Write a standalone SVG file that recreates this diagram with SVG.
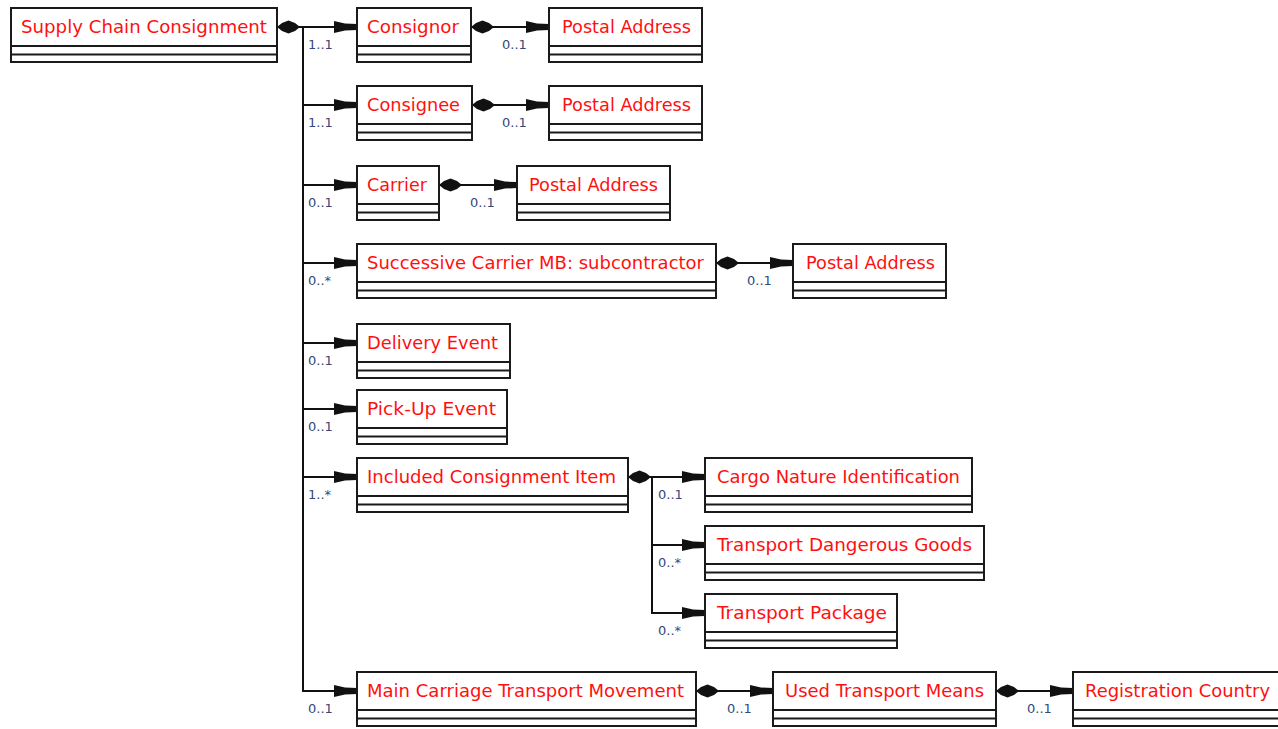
<svg xmlns="http://www.w3.org/2000/svg" width="1278" height="729" viewBox="0 0 1278 729">
  <defs>
    <style>
      .box rect { fill: #ffffff; stroke: #1a1a1a; stroke-width: 2; }
      .box line { stroke: #1a1a1a; stroke-width: 2; }
      .box text { font-family: "DejaVu Sans", "Liberation Sans", sans-serif; font-size: 17px; fill: #ff1010; }
      .conn path { fill: none; stroke: #111111; stroke-width: 2; }
      .mult { font-family: "DejaVu Sans", "Liberation Sans", sans-serif; font-size: 13px; fill: #34497a; }
    </style>
    <!-- composition diamond at the owning end -->
    <marker id="diamond" markerUnits="userSpaceOnUse" markerWidth="24" markerHeight="14" viewBox="0 0 24 14" refX="0" refY="7" orient="auto">
      <path d="M0,7 L5,3 L11.5,0.5 L18,3 L23,7 L18,11 L11.5,13.5 L5,11 Z" fill="#111111"/>
    </marker>
    <!-- navigability arrow at the target end -->
    <marker id="arrow" markerUnits="userSpaceOnUse" markerWidth="24" markerHeight="14" viewBox="0 0 24 14" refX="23" refY="7" orient="auto">
      <path d="M0,1 L11,3.5 L23,4 L23,10 L11,10.5 L0,13 Z" fill="#111111"/>
    </marker>
  </defs>

  <rect width="1278" height="729" fill="#ffffff"/>

  <!-- connectors -->
  <g id="connectors" class="conn">
    <path d="M277,27 H357" marker-start="url(#diamond)" marker-end="url(#arrow)"/>
    <path d="M303,27 V105 H357" marker-end="url(#arrow)"/>
    <path d="M303,27 V185 H357" marker-end="url(#arrow)"/>
    <path d="M303,27 V263 H357" marker-end="url(#arrow)"/>
    <path d="M303,27 V343 H357" marker-end="url(#arrow)"/>
    <path d="M303,27 V409 H357" marker-end="url(#arrow)"/>
    <path d="M303,27 V477 H357" marker-end="url(#arrow)"/>
    <path d="M303,27 V691 H357" marker-end="url(#arrow)"/>

    <path d="M471,27 H549" marker-start="url(#diamond)" marker-end="url(#arrow)"/>
    <path d="M472,105 H549" marker-start="url(#diamond)" marker-end="url(#arrow)"/>
    <path d="M439,185 H517" marker-start="url(#diamond)" marker-end="url(#arrow)"/>
    <path d="M716,263 H793" marker-start="url(#diamond)" marker-end="url(#arrow)"/>

    <path d="M628,477 H705" marker-start="url(#diamond)" marker-end="url(#arrow)"/>
    <path d="M652,477 V545 H705" marker-end="url(#arrow)"/>
    <path d="M652,477 V613 H705" marker-end="url(#arrow)"/>

    <path d="M696,691 H773" marker-start="url(#diamond)" marker-end="url(#arrow)"/>
    <path d="M996,691 H1073" marker-start="url(#diamond)" marker-end="url(#arrow)"/>

    <!-- multiplicities -->
    <text class="mult" x="308" y="49">1..1</text>
    <text class="mult" x="502" y="49">0..1</text>
    <text class="mult" x="308" y="127">1..1</text>
    <text class="mult" x="502" y="127">0..1</text>
    <text class="mult" x="308" y="207">0..1</text>
    <text class="mult" x="470" y="207">0..1</text>
    <text class="mult" x="308" y="285">0..*</text>
    <text class="mult" x="747" y="285">0..1</text>
    <text class="mult" x="308" y="365">0..1</text>
    <text class="mult" x="308" y="431">0..1</text>
    <text class="mult" x="308" y="499">1..*</text>
    <text class="mult" x="658" y="499">0..1</text>
    <text class="mult" x="658" y="567">0..*</text>
    <text class="mult" x="658" y="635">0..*</text>
    <text class="mult" x="308" y="713">0..1</text>
    <text class="mult" x="727" y="713">0..1</text>
    <text class="mult" x="1027" y="713">0..1</text>
  </g>

  <!-- classes -->
  <g id="supply-chain-consignment" class="box">
    <rect x="11" y="8" width="266" height="54"/>
    <line x1="11" y1="46" x2="277" y2="46"/><line x1="11" y1="54.5" x2="277" y2="54.5"/>
    <text x="21" y="33" textLength="246" lengthAdjust="spacingAndGlyphs">Supply Chain Consignment</text>
  </g>

  <g id="consignor" class="box">
    <rect x="357" y="8" width="114" height="54"/>
    <line x1="357" y1="46" x2="471" y2="46"/><line x1="357" y1="54.5" x2="471" y2="54.5"/>
    <text x="367" y="33" textLength="92" lengthAdjust="spacingAndGlyphs">Consignor</text>
  </g>
  <g id="consignor-postal-address" class="box">
    <rect x="549" y="8" width="153" height="54"/>
    <line x1="549" y1="46" x2="702" y2="46"/><line x1="549" y1="54.5" x2="702" y2="54.5"/>
    <text x="562" y="33" textLength="129" lengthAdjust="spacingAndGlyphs">Postal Address</text>
  </g>

  <g id="consignee" class="box">
    <rect x="357" y="86" width="115" height="54"/>
    <line x1="357" y1="124" x2="472" y2="124"/><line x1="357" y1="132.5" x2="472" y2="132.5"/>
    <text x="367" y="111" textLength="93" lengthAdjust="spacingAndGlyphs">Consignee</text>
  </g>
  <g id="consignee-postal-address" class="box">
    <rect x="549" y="86" width="153" height="54"/>
    <line x1="549" y1="124" x2="702" y2="124"/><line x1="549" y1="132.5" x2="702" y2="132.5"/>
    <text x="562" y="111" textLength="129" lengthAdjust="spacingAndGlyphs">Postal Address</text>
  </g>

  <g id="carrier" class="box">
    <rect x="357" y="166" width="82" height="54"/>
    <line x1="357" y1="204" x2="439" y2="204"/><line x1="357" y1="212.5" x2="439" y2="212.5"/>
    <text x="367" y="191" textLength="60" lengthAdjust="spacingAndGlyphs">Carrier</text>
  </g>
  <g id="carrier-postal-address" class="box">
    <rect x="517" y="166" width="153" height="54"/>
    <line x1="517" y1="204" x2="670" y2="204"/><line x1="517" y1="212.5" x2="670" y2="212.5"/>
    <text x="529" y="191" textLength="129" lengthAdjust="spacingAndGlyphs">Postal Address</text>
  </g>

  <g id="successive-carrier" class="box">
    <rect x="357" y="244" width="359" height="54"/>
    <line x1="357" y1="282" x2="716" y2="282"/><line x1="357" y1="290.5" x2="716" y2="290.5"/>
    <text x="367" y="269" textLength="337" lengthAdjust="spacingAndGlyphs">Successive Carrier MB: subcontractor</text>
  </g>
  <g id="successive-carrier-postal-address" class="box">
    <rect x="793" y="244" width="153" height="54"/>
    <line x1="793" y1="282" x2="946" y2="282"/><line x1="793" y1="290.5" x2="946" y2="290.5"/>
    <text x="806" y="269" textLength="129" lengthAdjust="spacingAndGlyphs">Postal Address</text>
  </g>

  <g id="delivery-event" class="box">
    <rect x="357" y="324" width="153" height="54"/>
    <line x1="357" y1="362" x2="510" y2="362"/><line x1="357" y1="370.5" x2="510" y2="370.5"/>
    <text x="367" y="349" textLength="131" lengthAdjust="spacingAndGlyphs">Delivery Event</text>
  </g>

  <g id="pick-up-event" class="box">
    <rect x="357" y="390" width="150" height="54"/>
    <line x1="357" y1="428" x2="507" y2="428"/><line x1="357" y1="436.5" x2="507" y2="436.5"/>
    <text x="367" y="415" textLength="129" lengthAdjust="spacingAndGlyphs">Pick-Up Event</text>
  </g>

  <g id="included-consignment-item" class="box">
    <rect x="357" y="458" width="271" height="54"/>
    <line x1="357" y1="496" x2="628" y2="496"/><line x1="357" y1="504.5" x2="628" y2="504.5"/>
    <text x="367" y="483" textLength="249" lengthAdjust="spacingAndGlyphs">Included Consignment Item</text>
  </g>
  <g id="cargo-nature-identification" class="box">
    <rect x="705" y="458" width="267" height="54"/>
    <line x1="705" y1="496" x2="972" y2="496"/><line x1="705" y1="504.5" x2="972" y2="504.5"/>
    <text x="717" y="483" textLength="243" lengthAdjust="spacingAndGlyphs">Cargo Nature Identification</text>
  </g>
  <g id="transport-dangerous-goods" class="box">
    <rect x="705" y="526" width="279" height="54"/>
    <line x1="705" y1="564" x2="984" y2="564"/><line x1="705" y1="572.5" x2="984" y2="572.5"/>
    <text x="717" y="551" textLength="255" lengthAdjust="spacingAndGlyphs">Transport Dangerous Goods</text>
  </g>
  <g id="transport-package" class="box">
    <rect x="705" y="594" width="192" height="54"/>
    <line x1="705" y1="632" x2="897" y2="632"/><line x1="705" y1="640.5" x2="897" y2="640.5"/>
    <text x="717" y="619" textLength="170" lengthAdjust="spacingAndGlyphs">Transport Package</text>
  </g>

  <g id="main-carriage-transport-movement" class="box">
    <rect x="357" y="672" width="339" height="54"/>
    <line x1="357" y1="710" x2="696" y2="710"/><line x1="357" y1="718.5" x2="696" y2="718.5"/>
    <text x="367" y="697" textLength="317" lengthAdjust="spacingAndGlyphs">Main Carriage Transport Movement</text>
  </g>
  <g id="used-transport-means" class="box">
    <rect x="773" y="672" width="223" height="54"/>
    <line x1="773" y1="710" x2="996" y2="710"/><line x1="773" y1="718.5" x2="996" y2="718.5"/>
    <text x="785" y="697" textLength="199" lengthAdjust="spacingAndGlyphs">Used Transport Means</text>
  </g>
  <g id="registration-country" class="box">
    <rect x="1073" y="672" width="215" height="54"/>
    <line x1="1073" y1="710" x2="1288" y2="710"/><line x1="1073" y1="718.5" x2="1288" y2="718.5"/>
    <text x="1085" y="697" textLength="185" lengthAdjust="spacingAndGlyphs">Registration Country</text>
  </g>
</svg>
